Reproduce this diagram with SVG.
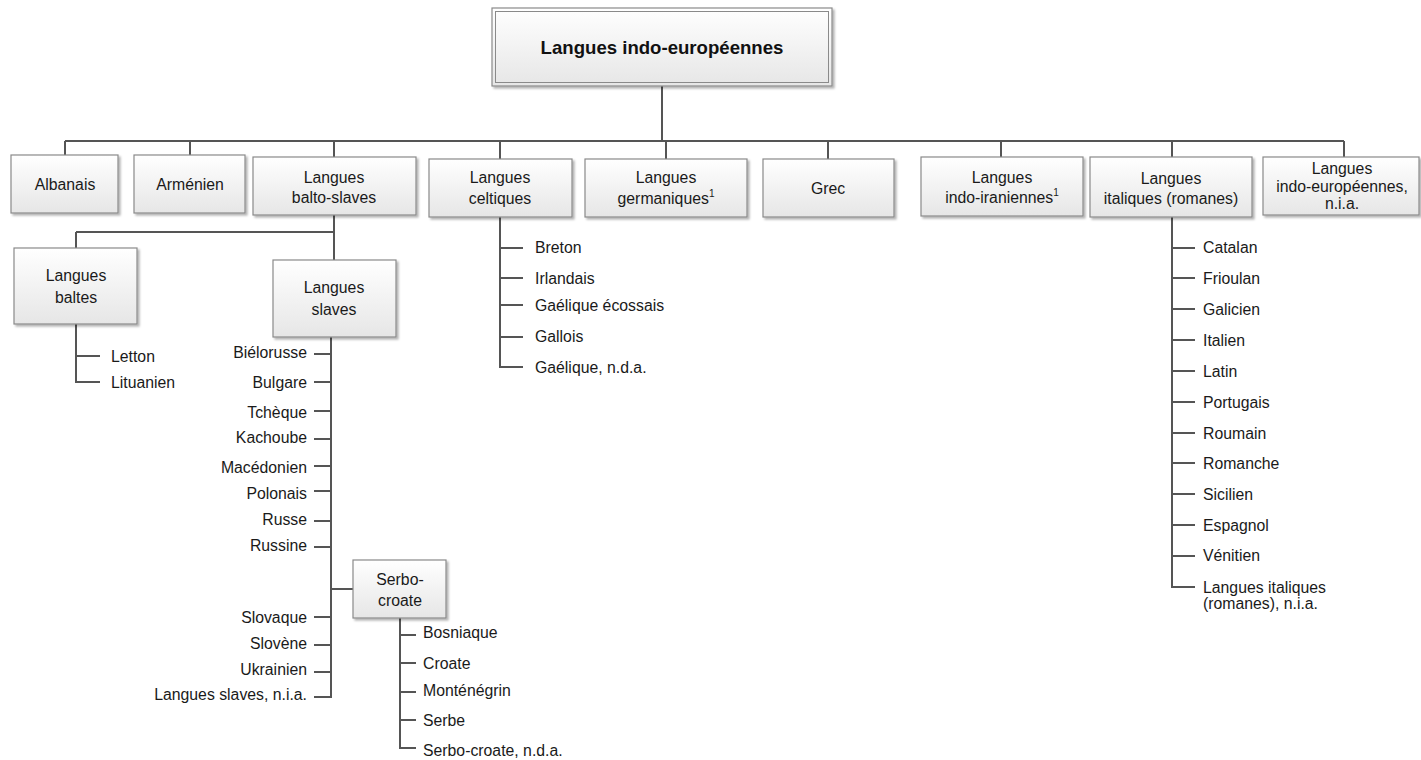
<svg xmlns="http://www.w3.org/2000/svg" width="1421" height="760" viewBox="0 0 1421 760">
<style>
.box{fill:url(#g);stroke:#8a8a8a;stroke-width:1.2;filter:url(#sh)}
.t{font-family:"Liberation Sans",Arial,sans-serif;font-size:15.8px;fill:#1a1a1a}
.c{text-anchor:middle}
.e{text-anchor:end}
.title{font-family:"Liberation Sans",Arial,sans-serif;font-size:18.6px;font-weight:bold;fill:#111;text-anchor:middle}
.sup{font-size:10px}
.ln{fill:none;stroke:#555;stroke-width:2}
</style>
<defs>
<linearGradient id="g" x1="0" y1="0" x2="0" y2="1">
<stop offset="0" stop-color="#ffffff"/>
<stop offset="1" stop-color="#e6e6e6"/>
</linearGradient>
<filter id="sh" x="-10%" y="-10%" width="130%" height="140%">
<feDropShadow dx="2" dy="2" stdDeviation="1.2" flood-color="#000" flood-opacity="0.3"/>
</filter>
</defs>
<g id="connectors">
<path class="ln" d="M662,86V141M65,141H1344M65,141V155M190,141V155M334,141V157M500,141V159M666,141V159M828,141V159M1001,141V157M1172,141V157M1344,141V157"/>
<path class="ln" d="M334,215V232M76,232H334M76,232V248M334,232V260"/>
<path class="ln" d="M76,324V382H100M76,356H100"/>
<path class="ln" d="M331,337V697H314M314,354H331M314,382H331M314,411H331M314,439H331M314,466H331M314,491H331M314,521H331M314,547H331M331,589H353M314,617H331M314,645H331M314,672H331"/>
<path class="ln" d="M400,618V748H416M400,635H416M400,663H416M400,692H416M400,720H416"/>
<path class="ln" d="M500,217V367H523M500,248H523M500,278H523M500,305H523M500,337H523"/>
<path class="ln" d="M1172,217V587H1195M1172,248H1195M1172,278H1195M1172,309H1195M1172,340H1195M1172,371H1195M1172,402H1195M1172,433H1195M1172,463H1195M1172,494H1195M1172,525H1195M1172,556H1195"/>
</g>
<g id="root">
<rect x="492" y="8" width="340" height="78" fill="url(#g)" stroke="#8a8a8a" stroke-width="1.2" filter="url(#sh)"/>
<rect x="495.5" y="11.5" width="333" height="71" fill="none" stroke="#8a8a8a" stroke-width="1"/>
<text class="title" x="662" y="53.5">Langues indo-européennes</text>
</g>
<g id="albanais"><rect class="box" x="11" y="155" width="107" height="58"/><text class="t c" x="65" y="189.5">Albanais</text></g>
<g id="armenien"><rect class="box" x="134" y="155" width="111" height="58"/><text class="t c" x="190" y="189.5">Arménien</text></g>
<g id="balto-slaves"><rect class="box" x="253" y="157" width="163" height="58"/><text class="t c" x="334" y="182.5">Langues</text><text class="t c" x="334" y="202.5">balto-slaves</text></g>
<g id="celtiques"><rect class="box" x="429" y="159" width="143" height="58"/><text class="t c" x="500" y="182.5">Langues</text><text class="t c" x="500" y="203.5">celtiques</text></g>
<g id="germaniques"><rect class="box" x="585" y="159" width="162" height="58"/><text class="t c" x="666" y="182.5">Langues</text><text class="t c" x="666" y="203.5">germaniques<tspan class="sup" dy="-7">1</tspan></text></g>
<g id="grec"><rect class="box" x="763" y="159" width="131" height="58"/><text class="t c" x="828" y="193.5">Grec</text></g>
<g id="indo-iraniennes"><rect class="box" x="921" y="157" width="162" height="59"/><text class="t c" x="1002" y="182.5">Langues</text><text class="t c" x="1002" y="202.5">indo-iraniennes<tspan class="sup" dy="-7">1</tspan></text></g>
<g id="italiques"><rect class="box" x="1090" y="157" width="162" height="60"/><text class="t c" x="1171" y="183.5">Langues</text><text class="t c" x="1171" y="203.5">italiques (romanes)</text></g>
<g id="ie-nia"><rect class="box" x="1263" y="157" width="156" height="58"/><text class="t c" x="1342" y="173.5">Langues</text><text class="t c" x="1342" y="191.5">indo-européennes,</text><text class="t c" x="1342" y="208.5">n.i.a.</text></g>
<g id="baltes"><rect class="box" x="14" y="248" width="123" height="76"/><text class="t c" x="76" y="280.5">Langues</text><text class="t c" x="76" y="302.5">baltes</text></g>
<g id="slaves"><rect class="box" x="273" y="260" width="123" height="77"/><text class="t c" x="334" y="292.5">Langues</text><text class="t c" x="334" y="314.5">slaves</text></g>
<g id="serbo-croate"><rect class="box" x="353" y="560" width="93" height="58"/><text class="t c" x="400" y="584.5">Serbo-</text><text class="t c" x="400" y="605.5">croate</text></g>
<g id="baltes-items">
<text class="t" x="111" y="361.5">Letton</text>
<text class="t" x="111" y="387.5">Lituanien</text>
</g>
<g id="slaves-items">
<text class="t e" x="307" y="357.5">Biélorusse</text>
<text class="t e" x="307" y="387.5">Bulgare</text>
<text class="t e" x="307" y="418">Tchèque</text>
<text class="t e" x="307" y="443">Kachoube</text>
<text class="t e" x="307" y="473">Macédonien</text>
<text class="t e" x="307" y="499">Polonais</text>
<text class="t e" x="307" y="525">Russe</text>
<text class="t e" x="307" y="550.5">Russine</text>
<text class="t e" x="307" y="623">Slovaque</text>
<text class="t e" x="307" y="649">Slovène</text>
<text class="t e" x="307" y="674.5">Ukrainien</text>
<text class="t e" x="307" y="700">Langues slaves, n.i.a.</text>
</g>
<g id="serbo-items">
<text class="t" x="423" y="638">Bosniaque</text>
<text class="t" x="423" y="669">Croate</text>
<text class="t" x="423" y="695.5">Monténégrin</text>
<text class="t" x="423" y="726">Serbe</text>
<text class="t" x="423" y="756">Serbo-croate, n.d.a.</text>
</g>
<g id="celtiques-items">
<text class="t" x="535" y="253">Breton</text>
<text class="t" x="535" y="284">Irlandais</text>
<text class="t" x="535" y="310.5">Gaélique écossais</text>
<text class="t" x="535" y="342">Gallois</text>
<text class="t" x="535" y="372.5">Gaélique, n.d.a.</text>
</g>
<g id="italiques-items">
<text class="t" x="1203" y="253">Catalan</text>
<text class="t" x="1203" y="284">Frioulan</text>
<text class="t" x="1203" y="315">Galicien</text>
<text class="t" x="1203" y="346">Italien</text>
<text class="t" x="1203" y="376.5">Latin</text>
<text class="t" x="1203" y="407.5">Portugais</text>
<text class="t" x="1203" y="438.5">Roumain</text>
<text class="t" x="1203" y="469">Romanche</text>
<text class="t" x="1203" y="500">Sicilien</text>
<text class="t" x="1203" y="530.5">Espagnol</text>
<text class="t" x="1203" y="561">Vénitien</text>
<text class="t" x="1203" y="593">Langues italiques</text>
<text class="t" x="1203" y="609">(romanes), n.i.a.</text>
</g>
</svg>
